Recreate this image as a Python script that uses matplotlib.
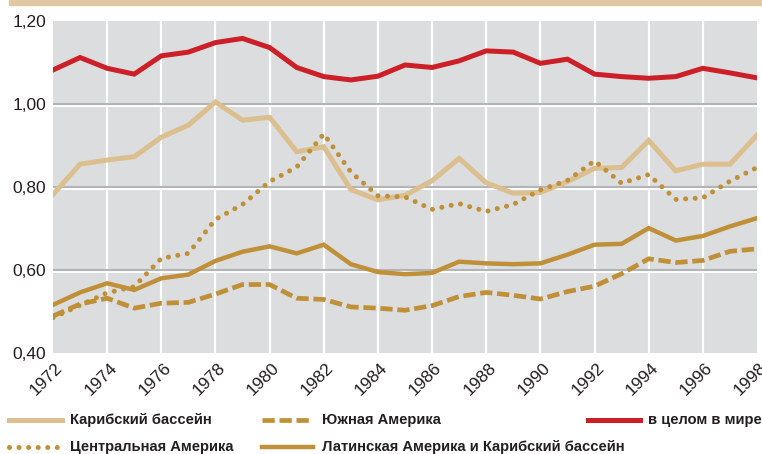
import numpy as np
import matplotlib
matplotlib.use('Agg')
import matplotlib.pyplot as plt
import matplotlib.transforms as mtransforms
from matplotlib.lines import Line2D
from matplotlib.patches import Rectangle

# ─── DATA ─────────────────────────────────────────────────────────────────────
YEARS = np.arange(1972, 1999)

CARIBBEAN = [0.782, 0.855, 0.865, 0.873, 0.920, 0.949, 1.005, 0.961, 0.968,
             0.885, 0.897, 0.794, 0.769, 0.780, 0.815, 0.869, 0.810, 0.785,
             0.787, 0.813, 0.845, 0.847, 0.912, 0.839, 0.855, 0.855, 0.925]

SOUTH_AM = [0.489, 0.518, 0.532, 0.508, 0.520, 0.522, 0.542, 0.565, 0.565,
            0.532, 0.529, 0.511, 0.508, 0.503, 0.514, 0.536, 0.546, 0.539,
            0.530, 0.548, 0.561, 0.591, 0.627, 0.618, 0.623, 0.645, 0.651]

WORLD = [1.082, 1.112, 1.086, 1.072, 1.116, 1.125, 1.148, 1.158, 1.136,
         1.088, 1.066, 1.058, 1.067, 1.094, 1.088, 1.104, 1.128, 1.125,
         1.098, 1.108, 1.072, 1.066, 1.062, 1.066, 1.086, 1.075, 1.063]

CENTRAL_AM = [0.485, 0.515, 0.545, 0.560, 0.628, 0.640, 0.722, 0.758, 0.813,
              0.848, 0.928, 0.836, 0.779, 0.776, 0.746, 0.760, 0.741, 0.758,
              0.793, 0.816, 0.863, 0.809, 0.830, 0.770, 0.774, 0.814, 0.847]

LATIN_AM = [0.516, 0.546, 0.568, 0.552, 0.580, 0.589, 0.622, 0.644, 0.657,
            0.640, 0.661, 0.614, 0.595, 0.590, 0.593, 0.620, 0.616, 0.614,
            0.616, 0.637, 0.661, 0.663, 0.701, 0.671, 0.682, 0.705, 0.725]

Y_TICKS = [0.40, 0.60, 0.80, 1.00, 1.20]
X_TICKS = np.arange(1972, 1999, 2)

LABELS = ['Карибский бассейн', 'Южная Америка', 'в целом в мире',
          'Центральная Америка', 'Латинская Америка и Карибский бассейн']
# ──────────────────────────────────────────────────────────────────────────────

C_CARIB = '#dbbf8e'
C_GOLD = '#c09038'
C_RED = '#cc1f27'
C_BG = '#dcdddf'
C_BAND = '#dfc8a2'
C_TEXT = '#231f20'

DOTTED = dict(linestyle=(0, (0.01, 1.9)), dash_capstyle='round')
DASHED = dict(linestyle=(0, (2.6, 1.0)), dash_capstyle='butt')

plt.rcParams['font.family'] = ['Liberation Sans', 'DejaVu Sans']

W, H = 762, 454
fig = plt.figure(figsize=(W / 100, H / 100), dpi=100)
ax = fig.add_axes([53 / W, 1 - 353 / H, (757 - 53) / W, (353 - 21) / H])
ax.set_facecolor(C_BG)
for s in ax.spines.values():
    s.set_visible(False)

# grid: white verticals, gray horizontals with a white line underneath
for x in X_TICKS[1:-1]:
    ax.axvline(x, color='white', lw=1.6, zorder=1)
off = mtransforms.ScaledTranslation(0, -1.6 / 72, fig.dpi_scale_trans)
for y in Y_TICKS[1:-1]:
    ax.plot([0, 1], [y, y], color='white', lw=1.4, zorder=1,
            transform=ax.get_yaxis_transform() + off)
    ax.axhline(y, color='#b3b4b6', lw=1.5, zorder=1.5)

ax.plot(YEARS, CARIBBEAN, color=C_CARIB, lw=3.6, zorder=3,
        solid_joinstyle='miter')
ax.plot(YEARS, SOUTH_AM, color=C_GOLD, lw=3.4, zorder=4, **DASHED)
ax.plot(YEARS, LATIN_AM, color=C_GOLD, lw=3.2, zorder=4,
        solid_joinstyle='miter')
ax.plot(YEARS, CENTRAL_AM, color=C_GOLD, lw=3.6, zorder=5, **DOTTED)
ax.plot(YEARS, WORLD, color=C_RED, lw=3.6, zorder=6,
        solid_joinstyle='miter')

ax.set_xlim(1972, 1998)
ax.set_ylim(0.40, 1.20)
ax.set_yticks(Y_TICKS)
ax.set_yticklabels([f'{v:.2f}'.replace('.', ',') for v in Y_TICKS])
ax.set_xticks(X_TICKS)
ax.set_xticklabels([str(x) for x in X_TICKS], rotation=45,
                   ha='right', va='top')
ax.tick_params(length=0, labelsize=12.5, colors=C_TEXT)
ax.tick_params(axis='y', pad=5)
ax.tick_params(axis='x', pad=5)
shift = mtransforms.ScaledTranslation(9 / 72, 0, fig.dpi_scale_trans)
for lab in ax.get_xticklabels():
    lab.set_transform(lab.get_transform() + shift)

# top band
fig.patches.append(Rectangle((9 / W, 1 - 5 / H), 1, 5 / H,
                             transform=fig.transFigure, color=C_BAND,
                             zorder=0))

# legend, drawn by hand
entries = [
    (9, 62, 420, dict(color=C_CARIB, lw=3.6), 70, LABELS[0]),
    (262, 313, 420, dict(color=C_GOLD, lw=3.4, **DASHED), 322, LABELS[1]),
    (588, 640, 420, dict(color=C_RED, lw=3.6), 648, LABELS[2]),
    (9, 62, 447, dict(color=C_GOLD, lw=3.6, **DOTTED), 70, LABELS[3]),
    (262, 313, 447, dict(color=C_GOLD, lw=3.2), 322, LABELS[4]),
]
for x0, x1, yy, style, tx, text in entries:
    fig.add_artist(Line2D([x0 / W, x1 / W], [1 - yy / H, 1 - yy / H],
                          transform=fig.transFigure, **style))
    fig.text(tx / W, 1 - yy / H, text, weight='bold',
             fontsize=10.6, color=C_TEXT, ha='left', va='center')

fig.savefig('out.png', dpi=100)
